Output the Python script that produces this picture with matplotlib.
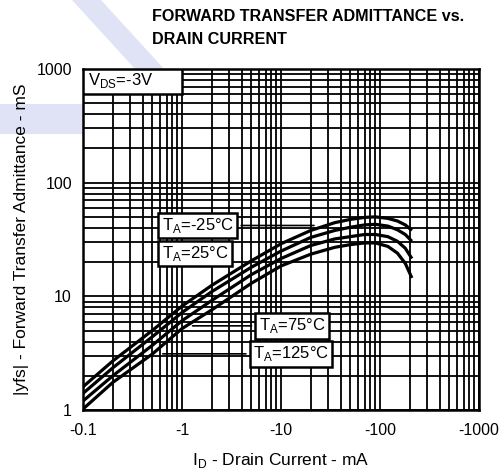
import matplotlib
matplotlib.use("Agg")
import matplotlib.pyplot as plt
from matplotlib.patches import Polygon, Rectangle
from matplotlib.ticker import FixedLocator, NullFormatter, LogLocator

plt.rcParams['font.family'] = ['Liberation Sans', 'DejaVu Sans']
plt.rcParams['mathtext.fontset'] = 'custom'
plt.rcParams['mathtext.rm'] = 'Liberation Sans'

#data (drain current in mA, |yfs| in mS)
drain_current = [-0.1, -0.2, -0.5, -1, -2, -5, -10, -20, -35, -50, -70, -90, -120, -150, -180, -210]
yfs_m25 = [1.6, 2.7, 5.0, 8.2, 12.5, 20.5, 29, 38, 44.5, 47.5, 49.5, 50, 48.5, 46, 42.5, 38]
yfs_25 = [1.4, 2.35, 4.4, 7.2, 11, 18, 25, 33, 38, 40.5, 42.5, 43, 41.5, 38.5, 35, 30.5]
yfs_75 = [1.2, 2.0, 3.7, 6.1, 9.2, 15.5, 21.5, 28, 32, 33.5, 35, 35, 33.5, 30.5, 26.5, 21.5]
yfs_125 = [1.02, 1.75, 3.1, 5.2, 7.6, 13, 18.5, 23.5, 27, 28.5, 29.5, 29.5, 27.5, 24, 19.5, 14.5]

x_ticks = [0.1, 1, 10, 100, 1000]
x_ticklabels = ["-0.1", "-1", "-10", "-100", "-1000"]
y_ticks = [1, 10, 100, 1000]
y_ticklabels = ["1", "10", "100", "1000"]

fig = plt.figure(figsize=(5.01, 4.73), dpi=100)

#light blue watermark in the top-left corner, on a background axes in pixel units
bg = fig.add_axes([0, 0, 1, 1], zorder=-1)
bg.set_xlim(0, 501)
bg.set_ylim(473, 0)
bg.axis('off')
wm = '#dfe3f5'
bg.add_patch(Polygon([(72, 0), (101, 0), (165, 70), (136, 70)], closed=True, fc=wm, ec='none'))
bg.add_patch(Rectangle((0, 104), 86, 30, fc=wm, ec='none'))

ax = fig.add_axes([83/501, 1-410/473, 396/501, 341/473])
ax.set_xscale('log')
ax.set_yscale('log')
ax.set_xlim(0.1, 1000)
ax.set_ylim(1, 1000)

cur = [-v for v in drain_current]
for ys in [yfs_m25, yfs_25, yfs_75, yfs_125]:
    ax.plot(cur, ys, color='black', lw=2.3, solid_capstyle='butt', zorder=3)

ax.xaxis.set_major_locator(FixedLocator(x_ticks))
ax.yaxis.set_major_locator(FixedLocator(y_ticks))
ax.xaxis.set_minor_locator(LogLocator(base=10, subs=range(2, 10), numticks=20))
ax.yaxis.set_minor_locator(LogLocator(base=10, subs=range(2, 10), numticks=20))
ax.xaxis.set_minor_formatter(NullFormatter())
ax.yaxis.set_minor_formatter(NullFormatter())
ax.set_xticklabels(x_ticklabels)
ax.set_yticklabels(y_ticklabels)
ax.tick_params(which='both', length=0)
ax.tick_params(axis='x', pad=9, labelsize=11.5)
ax.tick_params(axis='y', pad=8, labelsize=11.5)
ax.grid(which='both', color='black', lw=1.3)
ax.set_axisbelow(True)
for s in ax.spines.values():
    s.set_linewidth(1.8)

ax.set_xlabel("I$_{\\rm D}$ - Drain Current - mA", fontsize=12.5, labelpad=10)
ax.set_ylabel("|yfs| - Forward Transfer Admittance - mS", fontsize=12.5, labelpad=5)

#condition box in the top-left corner of the grid
ax.add_patch(Rectangle((0.1, 600), 0.9, 400, fc='white', ec='black', lw=1.8, zorder=4))
ax.text(0.113, 790, "V$_{\\rm DS}$=-3V", fontsize=12, va='center', ha='left', zorder=5)

box = dict(boxstyle='square,pad=0.2', fc='white', ec='black', lw=1.8)
ax.annotate("T$_{\\rm A}$=-25°C", xy=(23, 42), xytext=(1.45, 42), fontsize=12, ha='center', va='center',
            bbox=box, arrowprops=dict(arrowstyle='-', lw=1.2, color='black'), zorder=4)
ax.text(1.35, 23.8, "T$_{\\rm A}$=25°C", fontsize=12, ha='center', va='center', bbox=box, zorder=4)
ax.annotate("T$_{\\rm A}$=75°C", xy=(1.2, 5.5), xytext=(12.9, 5.5), fontsize=12, ha='center', va='center',
            bbox=box, arrowprops=dict(arrowstyle='-', lw=1.2, color='black'), zorder=4)
ax.annotate("T$_{\\rm A}$=125°C", xy=(0.6, 3.12), xytext=(12.6, 3.12), fontsize=12, ha='center', va='center',
            bbox=box, arrowprops=dict(arrowstyle='-', lw=1.2, color='black'), zorder=4)

fig.text(152/501, 1-9/473, "FORWARD TRANSFER ADMITTANCE vs.", fontsize=11.6,
         fontweight='bold', ha='left', va='top')
fig.text(152/501, 1-32/473, "DRAIN CURRENT", fontsize=11.6,
         fontweight='bold', ha='left', va='top')

fig.savefig("out.png", dpi=100)
